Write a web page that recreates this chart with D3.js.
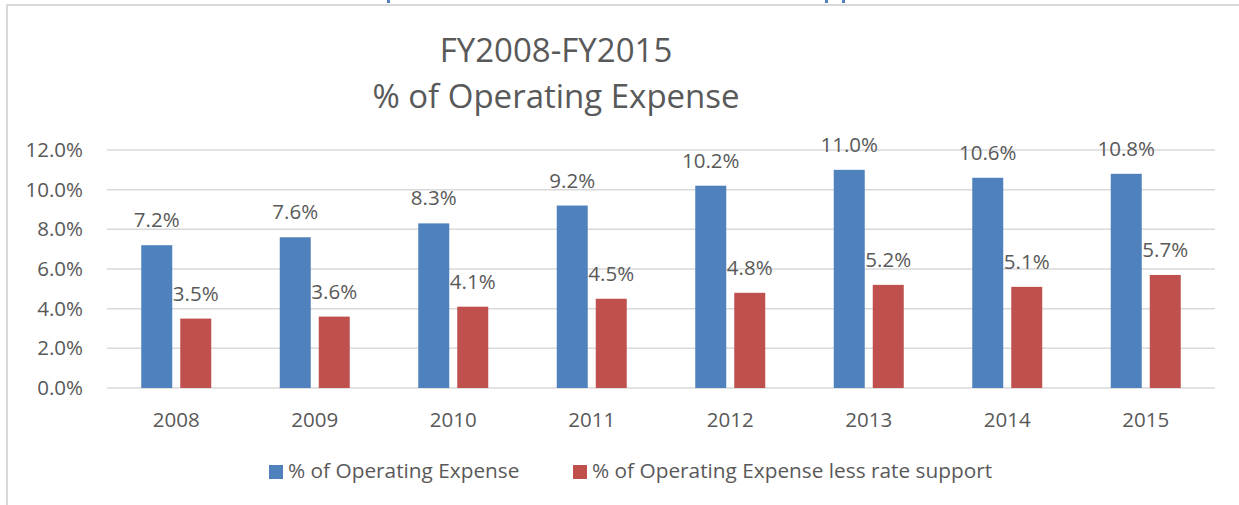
<!DOCTYPE html>
<html>
<head>
<meta charset="utf-8">
<script src="https://cdn.jsdelivr.net/npm/d3@7"></script>
<style>
  body { margin: 0; background: #ffffff; }
  svg text { font-family: "Open Sans", sans-serif; fill: #595959; }
</style>
</head>
<body>
<div id="chart"></div>
<script>
// chart data
var years = ["2008", "2009", "2010", "2011", "2012", "2013", "2014", "2015"];
var opExpense = [7.2, 7.6, 8.3, 9.2, 10.2, 11.0, 10.6, 10.8];
var opExpenseLessRate = [3.5, 3.6, 4.1, 4.5, 4.8, 5.2, 5.1, 5.7];
var seriesNames = ["% of Operating Expense", "% of Operating Expense less rate support"];
var yTicks = [0, 2, 4, 6, 8, 10, 12];
var titleLines = ["FY2008-FY2015", "% of Operating Expense"];

var colors = ["#4f81bd", "#c0504d"];
var W = 1239, H = 505;

var svg = d3.select("#chart").append("svg")
    .attr("width", W)
    .attr("height", H);

// frame of the embedded chart (top + left edges visible)
svg.append("rect").attr("x", 6).attr("y", 4).attr("width", W - 6).attr("height", 2).attr("fill", "#d9d9d9");
svg.append("rect").attr("x", 6).attr("y", 4).attr("width", 2).attr("height", H - 4).attr("fill", "#d9d9d9");

// bits of the cut-off page heading above the chart
[388, 826, 843].forEach(function(px){
  svg.append("rect").attr("x", px - 1).attr("y", 0).attr("width", 3).attr("height", 3).attr("fill", "#4f81bd");
});

// scales
var x = d3.scaleBand().domain(years).range([107, 1215]);
var y = d3.scaleLinear().domain([0, 12]).range([388, 150]);
var barW = 31, gap = 8;

// gridlines
svg.append("g").selectAll("line")
  .data(yTicks)
  .enter().append("line")
    .attr("x1", 107).attr("x2", 1215)
    .attr("y1", function(d){ return y(d); })
    .attr("y2", function(d){ return y(d); })
    .attr("stroke", "#d9d9d9")
    .attr("stroke-width", 1.5);

// y axis labels
var yAxis = d3.axisLeft(y).tickValues(yTicks)
  .tickFormat(function(d){ return d.toFixed(1) + "%"; })
  .tickSize(0).tickPadding(0);
var yg = svg.append("g").attr("transform", "translate(83,0)").call(yAxis);
yg.select(".domain").remove();
yg.selectAll("text").style("font-size", "20.5px").attr("fill", "#595959");

// x axis labels
var xAxis = d3.axisBottom(x).tickSize(0).tickPadding(0);
var xg = svg.append("g").attr("transform", "translate(0,412)").call(xAxis);
xg.select(".domain").remove();
xg.selectAll("text").style("font-size", "20.5px").attr("fill", "#595959");

// bars + labels
var series = [opExpense, opExpenseLessRate];
series.forEach(function(vals, s){
  var offset = function(yr){
    var c = x(yr) + x.bandwidth() / 2;
    return s === 0 ? c - gap / 2 - barW : c + gap / 2;
  };
  var g = svg.append("g");
  g.selectAll("rect")
    .data(years)
    .enter().append("rect")
      .attr("x", function(d){ return offset(d); })
      .attr("y", function(d, i){ return y(vals[i]); })
      .attr("width", barW)
      .attr("height", function(d, i){ return y(0) - y(vals[i]); })
      .attr("fill", colors[s]);
  g.selectAll("text")
    .data(years)
    .enter().append("text")
      .attr("x", function(d){ return offset(d) + barW / 2; })
      .attr("y", function(d, i){ return y(vals[i]) - 18; })
      .attr("text-anchor", "middle")
      .style("font-size", "20.5px")
      .text(function(d, i){ return vals[i].toFixed(1) + "%"; });
});

// title
svg.append("g").selectAll("text")
  .data(titleLines)
  .enter().append("text")
    .attr("x", 556)
    .attr("y", function(d, i){ return 62 + i * 46; })
    .attr("text-anchor", "middle")
    .style("font-size", "33px")
    .text(function(d){ return d; });

// legend
var legendX = [269, 573];
var lg = svg.append("g").selectAll("g")
  .data(seriesNames)
  .enter().append("g")
    .attr("transform", function(d, i){ return "translate(" + legendX[i] + ",465)"; });
lg.append("rect").attr("width", 14).attr("height", 14)
  .attr("fill", function(d, i){ return colors[i]; });
lg.append("text").attr("x", 19).attr("y", 13)
  .style("font-size", "20.8px")
  .text(function(d){ return d; });
</script>
</body>
</html>
